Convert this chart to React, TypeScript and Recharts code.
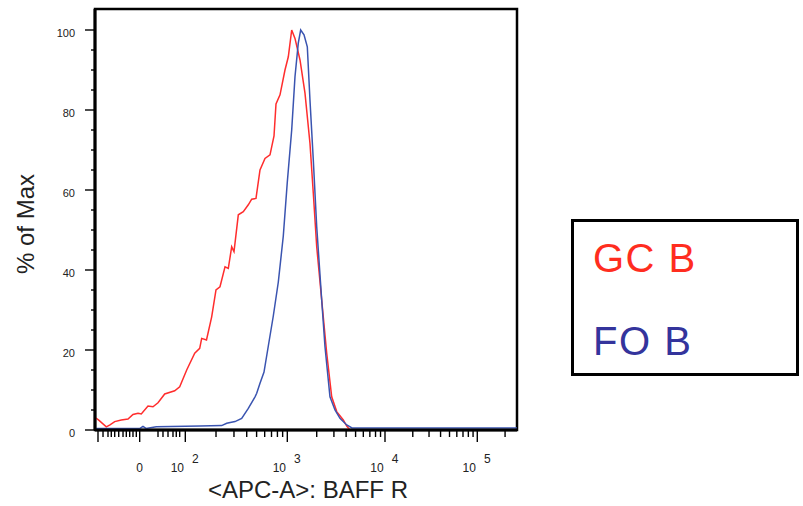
import React from "react";
import { Legend, Line, LineChart, ReferenceArea, XAxis, YAxis } from "recharts";

// x = display channel of the biexponential axis (0 = left edge, 1000 = right edge)
const gcX = [2.4, 9.5, 26.8, 35.5, 46.7, 62.3, 78.2, 90.0, 101.9, 109.7, 125.6, 137.4, 149.3, 165.2, 188.9, 200.7, 217.3, 236.3, 248.1, 252.8, 264.2, 276.5, 286.7, 296.2, 308.1, 315.9, 323.9, 329.4, 339.6, 351.4, 363.3, 371.3, 381.5, 391.0, 402.8, 414.7, 418.7, 424.2, 428.9, 438.4, 450.2, 458.1, 466.1, 473.9, 485.8, 497.6, 509.4, 517.3, 525.4, 537.2, 549.1, 560.9, 572.8, 588.4, 596.5, 604.3];
const gcY = [3.0, 2.4, 0.8, 1.3, 2.1, 2.5, 2.75, 3.9, 4.2, 4.0, 6.0, 5.8, 6.8, 9.0, 9.8, 10.8, 15.0, 19.2, 20.4, 22.9, 22.5, 28.3, 35.0, 35.8, 40.8, 40.4, 45.8, 44.6, 53.8, 54.6, 56.3, 57.7, 57.9, 65.0, 67.9, 68.8, 70.8, 73.5, 81.5, 83.8, 90.0, 93.3, 100, 97.9, 92.5, 84.2, 71.7, 59.2, 45.8, 32.5, 19.2, 8.3, 4.6, 2.5, 1.0, 0];

const foX = [2.4, 106.6, 113.7, 120.9, 145.3, 248.8, 300.2, 312.1, 331.8, 347.6, 363.3, 379.2, 383.2, 391.0, 400.5, 410.7, 422.5, 434.4, 446.2, 455.7, 466.1, 473.9, 481.7, 487.4, 495.3, 503.1, 509.4, 517.3, 525.4, 537.2, 545.0, 556.8, 568.7, 580.5, 596.5, 609.0, 1000];
const foY = [0.4, 0.4, 0.9, 0.4, 0.8, 1.0, 1.1, 1.7, 2.1, 2.9, 5.4, 8.3, 9.2, 11.7, 14.5, 21.0, 28.5, 37.0, 48.5, 62.0, 75.0, 88.3, 96.7, 100, 98.8, 95.8, 82.5, 67.5, 50.8, 32.5, 20.8, 8.3, 5.0, 2.9, 1.25, 0.5, 0.5];

const seriesNames = ["GC B", "FO B"];
const lineColors = ["#ff2d2d", "#3a54b0"];
const legendColors = ["#ff2d1f", "#34349c"];

// major ticks: 0, 10^2 .. 10^5
const xMajorTicks = [105.9, 214.0, 455.7, 687.2, 905.9];
const xMajorBase = ["0", "10", "10", "10", "10"];
const xMajorExp = ["", "2", "3", "4", "5"];
// minor ticks of the linear part around zero
const xLinearMinor = [7.1, 19.0, 30.8, 38.6, 46.7, 56.2, 66.4, 74.2, 82.2, 90.0, 97.9, 149.3, 161.1, 173.0, 184.8, 192.6, 200.7];
const xLongTicks = [7.1];
// channel width of each decade starting at 10^2
const decadeWidths = [241.7, 231.5, 218.7, 218.7];

const yTicks = [0, 5, 10, 15, 20, 25, 30, 35, 40, 45, 50, 55, 60, 65, 70, 75, 80, 85, 90, 95, 100];
const Y_MAX = 105.25;

const xLogMinor: number[] = [];
decadeWidths.forEach((w, i) => {
  for (let k = 2; k <= 9; k++) {
    const p = xMajorTicks[i + 1] + Math.log10(k) * w;
    if (p < 1000) xLogMinor.push(p);
  }
});
const xTicks = [...xMajorTicks, ...xLinearMinor, ...xLogMinor];

const gcData = gcX.map((x, i) => ({ x, y: gcY[i] }));
const foData = foX.map((x, i) => ({ x, y: foY[i] }));

const FONT = "'Liberation Sans', Arial, sans-serif";
const TEXT = "#222";

function XTick(props: any) {
  const { x, y, payload } = props;
  const i = xMajorTicks.indexOf(payload.value);
  const long = i >= 0 || xLongTicks.includes(payload.value);
  return (
    <g>
      <line x1={x} x2={x} y1={y} y2={y + (long ? 12 : 7)} stroke="#000" strokeWidth={1.4} />
      {i === 0 && (
        <text x={x} y={y + 42} textAnchor="middle" fontSize={12} fill={TEXT} fontFamily={FONT}>
          {xMajorBase[i]}
        </text>
      )}
      {i > 0 && (
        <g fontSize={12} fill={TEXT} fontFamily={FONT} textAnchor="middle">
          <text x={x - 8} y={y + 42}>{xMajorBase[i]}</text>
          <text x={x + 10} y={y + 33}>{xMajorExp[i]}</text>
        </g>
      )}
    </g>
  );
}

function YTick(props: any) {
  const { x, y, payload } = props;
  const major = payload.value % 20 === 0;
  return (
    <g>
      <line x1={x - (major ? 10 : 4)} x2={x} y1={y} y2={y} stroke="#000" strokeWidth={1.4} />
      {major && (
        <text x={x - 20} y={y + 7} textAnchor="end" fontSize={11} fill={TEXT} fontFamily={FONT}>
          {payload.value}
        </text>
      )}
    </g>
  );
}

function LegendBox(props: any) {
  const items = [...(props.payload || [])].sort(
    (a: any, b: any) => seriesNames.indexOf(a.value) - seriesNames.indexOf(b.value)
  );
  return (
    <svg width={228} height={157}>
      <rect x={1.5} y={1.5} width={225} height={154} fill="#fff" stroke="#000" strokeWidth={3} />
      {items.map((item: any, i: number) => (
        <text
          key={item.value}
          x={22}
          y={53 + i * 83}
          fontSize={40}
          letterSpacing={1.5}
          fontFamily={FONT}
          fill={legendColors[seriesNames.indexOf(item.value)]}
        >
          {item.value}
        </text>
      ))}
    </svg>
  );
}

export default function App() {
  return (
    <div style={{ position: "absolute", left: 0, top: 0, width: 803, height: 506 }}>
      <svg width={803} height={506} style={{ position: "absolute", left: 0, top: 0 }}>
        <text
          transform="translate(34,224) rotate(-90)"
          textAnchor="middle"
          fontSize={24}
          fill={TEXT}
          fontFamily={FONT}
        >
          % of Max
        </text>
      </svg>
      <LineChart width={803} height={506} margin={{ top: 9, right: 286, bottom: 0, left: 0 }}>
        <XAxis
          dataKey="x"
          type="number"
          domain={[0, 1000]}
          allowDataOverflow
          ticks={xTicks}
          interval={0}
          tick={<XTick />}
          tickLine={false}
          tickSize={0}
          tickMargin={0}
          height={76}
          axisLine={{ stroke: "#000", strokeWidth: 3 }}
          label={{
            value: "<APC-A>: BAFF R",
            position: "insideBottom",
            offset: 8,
            dx: 2,
            fontSize: 24,
            fill: TEXT,
            fontFamily: FONT,
          }}
        />
        <YAxis
          dataKey="y"
          type="number"
          domain={[0, Y_MAX]}
          allowDataOverflow
          ticks={yTicks}
          interval={0}
          tick={<YTick />}
          tickLine={false}
          tickSize={0}
          tickMargin={0}
          width={95}
          axisLine={{ stroke: "#000", strokeWidth: 3 }}
        />
        <ReferenceArea x1={0} x2={1000} y1={0} y2={Y_MAX} fill="none" stroke="#000" strokeWidth={2.5} />
        <Line
          data={gcData}
          dataKey="y"
          name={seriesNames[0]}
          type="linear"
          stroke={lineColors[0]}
          strokeWidth={1.5}
          dot={false}
          isAnimationActive={false}
        />
        <Line
          data={foData}
          dataKey="y"
          name={seriesNames[1]}
          type="linear"
          stroke={lineColors[1]}
          strokeWidth={1.5}
          dot={false}
          isAnimationActive={false}
        />
        <Legend
          layout="horizontal"
          verticalAlign="middle"
          align="center"
          content={<LegendBox />}
          wrapperStyle={{ left: 571, top: 219, width: 228, height: 157 }}
        />
      </LineChart>
    </div>
  );
}
